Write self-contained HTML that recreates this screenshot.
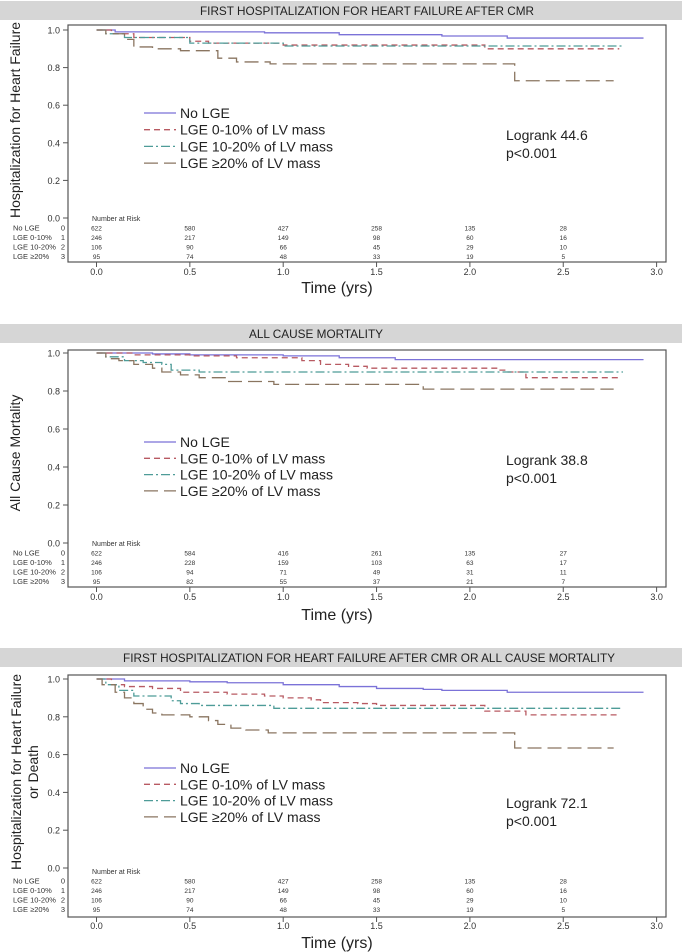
<!DOCTYPE html>
<html><head><meta charset="utf-8"><style>
html,body{margin:0;padding:0;background:#fff;}
svg{display:block;font-family:"Liberation Sans",Arial,sans-serif;}
</style></head><body>
<svg id="fig" width="682" height="952" viewBox="0 0 682 952" xmlns="http://www.w3.org/2000/svg"></svg>
<script>
// ---- data ----
const groupNames = ["No LGE","LGE 0-10%","LGE 10-20%","LGE \u226520%"];
const legendLabels = ["No LGE","LGE 0-10% of LV mass","LGE 10-20% of LV mass","LGE \u226520% of LV mass"];
const xTicks = [0,0.5,1.0,1.5,2.0,2.5,3.0];
const yTicks = [0,0.2,0.4,0.6,0.8,1.0];
const riskTimes = [0,0.5,1.0,1.5,2.0,2.5];

// panel 1: first HF hospitalization
const p1NoT = [0,0.1,0.9,1.3,1.85,2.2,2.93];
const p1NoS = [1,0.99,0.985,0.975,0.968,0.957,0.957];
const p1LowT = [0,0.08,0.2,0.5,0.6,1.0,2.08,2.8];
const p1LowS = [1,0.98,0.96,0.94,0.93,0.92,0.90,0.90];
const p1MidT = [0,0.05,0.15,0.5,1.0,2.82];
const p1MidS = [1,0.98,0.96,0.93,0.915,0.915];
const p1HiT = [0,0.05,0.15,0.2,0.3,0.45,0.65,0.75,0.93,2.24,2.77];
const p1HiS = [1,0.98,0.95,0.91,0.90,0.89,0.85,0.83,0.82,0.73,0.73];
const p1Risk = [[622,580,427,258,135,28],[246,217,149,98,60,16],[106,90,66,45,29,10],[95,74,48,33,19,5]];

// panel 2: all cause mortality
const p2NoT = [0,0.3,0.5,1.0,1.3,1.6,2.93];
const p2NoS = [1,0.995,0.99,0.985,0.975,0.965,0.965];
const p2LowT = [0,0.2,0.5,0.75,1.1,1.2,1.35,1.45,2.15,2.2,2.3,2.8];
const p2LowS = [1,0.99,0.985,0.975,0.96,0.94,0.93,0.92,0.91,0.90,0.87,0.87];
const p2MidT = [0,0.05,0.15,0.25,0.35,0.4,0.55,2.82];
const p2MidS = [1,0.98,0.96,0.95,0.94,0.91,0.90,0.90];
const p2HiT = [0,0.05,0.12,0.2,0.3,0.35,0.45,0.55,0.7,0.95,1.75,2.77];
const p2HiS = [1,0.97,0.96,0.94,0.92,0.90,0.885,0.87,0.85,0.835,0.81,0.81];
const p2Risk = [[622,584,416,261,135,27],[246,228,159,103,63,17],[106,94,71,49,31,11],[95,82,55,37,21,7]];

// panel 3: HF hospitalization or death
const p3NoT = [0,0.15,0.5,0.7,1.0,1.3,1.5,1.75,1.85,2.2,2.93];
const p3NoS = [1,0.99,0.985,0.98,0.97,0.96,0.95,0.945,0.94,0.93,0.93];
const p3LowT = [0,0.08,0.15,0.3,0.45,0.7,0.9,1.0,1.15,1.2,1.4,1.5,2.08,2.3,2.8];
const p3LowS = [1,0.97,0.96,0.95,0.93,0.92,0.91,0.90,0.89,0.875,0.87,0.86,0.83,0.81,0.81];
const p3MidT = [0,0.05,0.12,0.2,0.4,0.45,0.55,0.95,2.82];
const p3MidS = [1,0.97,0.94,0.91,0.885,0.87,0.86,0.845,0.845];
const p3HiT = [0,0.03,0.1,0.15,0.2,0.25,0.3,0.35,0.5,0.6,0.65,0.72,0.8,0.92,2.24,2.77];
const p3HiS = [1,0.97,0.93,0.90,0.87,0.84,0.82,0.81,0.80,0.78,0.76,0.74,0.73,0.715,0.635,0.635];
const p3Risk = [[622,580,427,258,135,28],[246,217,149,98,60,16],[106,90,66,45,29,10],[95,74,48,33,19,5]];

const NS="http://www.w3.org/2000/svg";
const svg=document.getElementById('fig');
function el(tag,attrs,parent,text){const e=document.createElementNS(NS,tag);for(const k in attrs)e.setAttribute(k,attrs[k]);if(text!==undefined)e.textContent=text;(parent||svg).appendChild(e);return e;}

const colors=["#7b72d8","#b85a62","#4e9c98","#8a7560"];
const dashes=["none","6 4","9 3 2 3","14 6"];

function panel(cfg){
  const g=el('g',{});
  
  
  const oy=cfg.oy;
  const L=68,R=666,top=oy+cfg.top,bot=oy+cfg.bot;
  const y0=oy+cfg.y0,y1=oy+cfg.y1;
  const xS=t=>96.5+t*186.7;
  const yS=v=>y0+(y1-y0)*v;
  const hb=el('rect',{x:0,y:oy+cfg.hTop,width:682,height:19,fill:"#d6d6d6"},g);
  
  
  const ht=el('text',{x:cfg.titleX,y:oy+cfg.hTop+14,'text-anchor':'middle','font-size':12,fill:'#222',textLength:cfg.titleW,lengthAdjust:'spacingAndGlyphs'},g,cfg.title);
  
  
  const box=el('rect',{x:L,y:top,width:R-L,height:bot-top,fill:'#fff',stroke:'#555','stroke-width':1.2},g);
  
  
  yTicks.forEach(v=>{
    const y=yS(v);
    el('line',{x1:L-5,x2:L,y1:y,y2:y,stroke:'#555'},g);
    const t=el('text',{x:L-8,y:y+3.5,'text-anchor':'end','font-size':9,fill:'#333'},g,v.toFixed(1));
    
    
  });
  xTicks.forEach(v=>{
    const x=xS(v);
    el('line',{x1:x,x2:x,y1:bot,y2:bot+5,stroke:'#555'},g);
    const t=el('text',{x:x,y:bot+cfg.xlOff,'text-anchor':'middle','font-size':9,fill:'#333'},g,v.toFixed(1));
    
    
  });
  const xt=el('text',{x:337,y:oy+cfg.xTitleY,'text-anchor':'middle','font-size':16,fill:'#222'},g,'Time (yrs)');
  
  
  cfg.yTitle.forEach((s,i)=>{
    const x=cfg.yTitleX[i],yc=oy+cfg.yTitleY;
    const t=el('text',{x:x,y:yc,'text-anchor':'middle','font-size':14,fill:'#222'},g,s);
    t.setAttribute('transform','rotate(-90 '+x+' '+yc+')');
    
    
  });
  cfg.series.forEach((s,i)=>{
    let d=`M${xS(s[0][0])},${yS(s[1][0])}`;
    for(let k=1;k<s[0].length;k++){d+=` H${xS(s[0][k])} V${yS(s[1][k])}`;}
    const p=el('path',{d:d,fill:'none',stroke:colors[i],'stroke-width':1.3,'stroke-dasharray':dashes[i]},g);
    
    
  });
  legendLabels.forEach((s,i)=>{
    const y=oy+cfg.legY+i*cfg.legStep;
    const ln=el('line',{x1:144,x2:176,y1:y-5,y2:y-5,stroke:colors[i],'stroke-width':1.3,'stroke-dasharray':dashes[i]},g);
    
    
    const t=el('text',{x:180,y:y,'font-size':14,fill:'#222'},g,s);
    
    
  });
  const lr=el('text',{x:506,y:oy+cfg.lrY,'font-size':14,fill:'#222'},g,'Logrank '+cfg.logrank);
  
  
  const pv=el('text',{x:506,y:oy+cfg.lrY+18,'font-size':14,fill:'#222'},g,'p<0.001');
  
  
  const nr=el('text',{x:92,y:oy+cfg.nrY,'font-size':7,fill:'#333'},g,'Number at Risk');
  
  
  cfg.risk.forEach((row,i)=>{
    const y=oy+cfg.nrY+9.5*(i+1);
    const lab=el('text',{x:13,y:y,'font-size':7.5,fill:'#333'},g,groupNames[i]);
    
    
    el('text',{x:65,y:y,'text-anchor':'end','font-size':7.5,fill:'#333'},g,String(i));
    row.forEach((v,j)=>{
      const t=el('text',{x:xS(riskTimes[j]),y:y,'text-anchor':'middle','font-size':6.5,fill:'#333'},g,String(v));
      
      
    });
  });
}

panel({name:'panel-hf-hospitalization',oy:0,hTop:1,title:'FIRST HOSPITALIZATION FOR HEART FAILURE AFTER CMR',titleX:367,titleW:334,
  top:25,bot:262,y0:218,y1:30,xlOff:13,xTitleY:293,yTitle:['Hospitalization for Heart Failure'],yTitleX:[20],yTitleY:120,
  legY:118,legStep:16.7,lrY:140,logrank:'44.6',nrY:221,risk:p1Risk,
  series:[[p1NoT,p1NoS],[p1LowT,p1LowS],[p1MidT,p1MidS],[p1HiT,p1HiS]]});
panel({name:'panel-all-cause-mortality',oy:315,hTop:9,title:'ALL CAUSE MORTALITY',titleX:316,titleW:134,
  top:35,bot:272,y0:228,y1:38,xlOff:13,xTitleY:305,yTitle:['All Cause Mortality'],yTitleX:[20],yTitleY:138,
  legY:132,legStep:16.3,lrY:150,logrank:'38.8',nrY:231,risk:p2Risk,
  series:[[p2NoT,p2NoS],[p2LowT,p2LowS],[p2MidT,p2MidS],[p2HiT,p2HiS]]});
panel({name:'panel-hf-or-death',oy:640,hTop:8,title:'FIRST HOSPITALIZATION FOR HEART FAILURE AFTER CMR OR ALL CAUSE MORTALITY',titleX:369,titleW:492,
  top:35,bot:277,y0:228,y1:39,xlOff:12,xTitleY:308,yTitle:['Hospitalization for Heart Failure','or Death'],yTitleX:[21,38],yTitleY:132,
  legY:133,legStep:16.3,lrY:168,logrank:'72.1',nrY:234,risk:p3Risk,
  series:[[p3NoT,p3NoS],[p3LowT,p3LowS],[p3MidT,p3MidS],[p3HiT,p3HiS]]});
</script>
</body></html>
